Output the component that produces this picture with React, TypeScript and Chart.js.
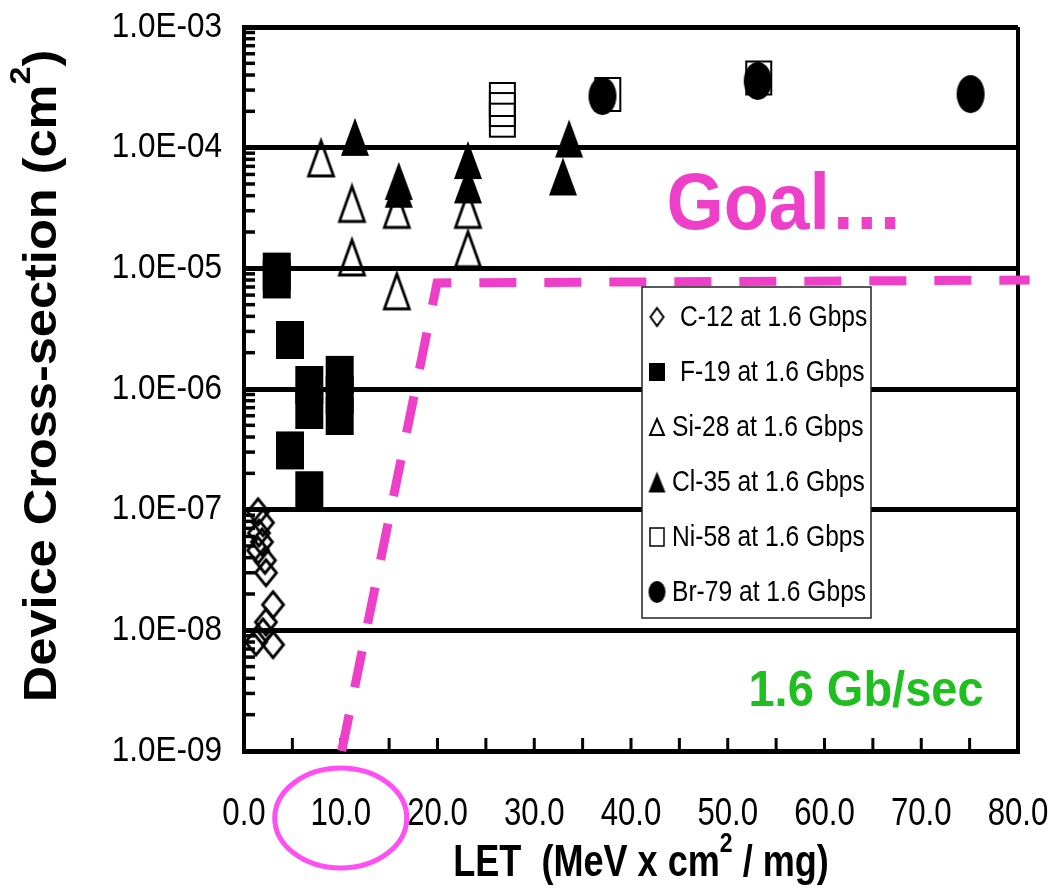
import React, { useEffect, useRef } from 'react';
import { Chart, registerables } from 'chart.js';

Chart.register(...registerables);

// ---------- data ----------
const seriesLabels = [
  'C-12 at 1.6 Gbps',
  'F-19 at 1.6 Gbps',
  'Si-28 at 1.6 Gbps',
  'Cl-35 at 1.6 Gbps',
  'Ni-58 at 1.6 Gbps',
  'Br-79 at 1.6 Gbps',
];

const c12Let = [1.45, 1.96, 1.55, 1.86, 1.45, 2.17, 2.27, 3.0, 2.27, 1.96, 1.24, 3.0];
const c12Sigma = [9.6e-8, 7.8e-8, 6.4e-8, 5.4e-8, 4.6e-8, 3.8e-8, 3.0e-8, 1.63e-8, 1.17e-8, 9.7e-9, 8.0e-9, 7.6e-9];

const f19Let = [3.38, 3.38, 4.75, 6.75, 6.75, 9.89, 9.89, 9.89, 4.75, 6.75];
const f19Sigma = [9.4e-6, 8.1e-6, 2.55e-6, 1.08e-6, 6.7e-7, 1.31e-6, 8.9e-7, 5.98e-7, 3.1e-7, 1.45e-7];

const si28Let = [7.96, 11.16, 11.16, 15.8, 15.8, 23.15, 23.15];
const si28Sigma = [8.15e-5, 3.42e-5, 1.23e-5, 6.45e-6, 3.05e-5, 3.05e-5, 1.44e-5];

const cl35Let = [11.47, 16.0, 16.0, 23.15, 23.15, 33.6, 32.97];
const cl35Sigma = [1.23e-4, 5.3e-5, 4.57e-5, 7.9e-5, 4.96e-5, 1.19e-4, 5.77e-5];

const ni58Let = [26.7, 26.7, 26.7, 37.6, 53.2];
const ni58Sigma = [2.51e-4, 2.07e-4, 1.69e-4, 2.76e-4, 3.78e-4];

const br79Let = [37.05, 53.1, 75.1];
const br79Sigma = [2.68e-4, 3.57e-4, 2.78e-4];

const goalLet = [10.1, 19.95, 81.2];
const goalSigma = [1e-9, 7.57e-6, 8.0e-6];

const xMin = 0;
const xMax = 80;
const xStep = 5;
const xLabelStep = 10;
const yMin = 1e-9;
const yMax = 1e-3;

// title pieces: [normal, superscript, normal]
const xTitleParts = ['LET  (MeV x cm', '2', ' / mg)'];
const yTitleParts = ['Device Cross-section (cm', '2', ')'];
const goalText = 'Goal\u2026';
const rateText = '1.6 Gb/sec';
const circledTick = 10;

// ---------- styles ----------
const PINK = '#EE3FC8';
const MAGENTA = '#FF4FF4';
const GREEN = '#1FBF1F';
const SANS = '"Liberation Sans", Arial, sans-serif';

type Kind = 'diamond' | 'square' | 'triangle' | 'circle';

function makeMarker(kind: Kind, w: number, h: number, filled: boolean, lw: number): HTMLCanvasElement {
  const pad = Math.ceil(lw) + 1;
  const c = document.createElement('canvas');
  c.width = w + pad * 2;
  c.height = h + pad * 2;
  const g = c.getContext('2d')!;
  g.translate(pad, pad);
  g.beginPath();
  if (kind === 'diamond') {
    g.moveTo(w / 2, 0); g.lineTo(w, h / 2); g.lineTo(w / 2, h); g.lineTo(0, h / 2); g.closePath();
  } else if (kind === 'square') {
    g.rect(0, 0, w, h);
  } else if (kind === 'triangle') {
    g.moveTo(w / 2, 0); g.lineTo(w, h); g.lineTo(0, h); g.closePath();
  } else {
    g.ellipse(w / 2, h / 2, w / 2, h / 2, 0, 0, Math.PI * 2);
  }
  if (filled) {
    g.fillStyle = '#000';
    g.fill();
  } else {
    g.lineWidth = lw;
    g.strokeStyle = '#000';
    g.lineJoin = 'miter';
    g.stroke();
  }
  return c;
}

function isDecade(v: number): boolean {
  const l = Math.log10(v);
  return Math.abs(l - Math.round(l)) < 1e-6;
}

function isIntMantissa(v: number): boolean {
  const e = Math.floor(Math.log10(v) + 1e-9);
  const m = v / Math.pow(10, e);
  return Math.abs(m - Math.round(m)) < 1e-6;
}

function fmtSci(v: number): string {
  const e = Math.round(Math.log10(v));
  const m = v / Math.pow(10, e);
  const sign = e < 0 ? '-' : '+';
  return m.toFixed(1) + 'E' + sign + String(Math.abs(e)).padStart(2, '0');
}

function pts(xs: number[], ys: number[]) {
  return xs.map((x, i) => ({ x, y: ys[i] }));
}

function drawText(
  ctx: CanvasRenderingContext2D, text: string, x: number, y: number, font: string,
  color: string, align: CanvasTextAlign, sx = 1, sy = 1, rot = 0,
) {
  ctx.save();
  ctx.translate(x, y);
  ctx.rotate(rot);
  ctx.scale(sx, sy);
  ctx.font = font;
  ctx.fillStyle = color;
  ctx.textAlign = align;
  ctx.textBaseline = 'middle';
  ctx.fillText(text, 0, 0);
  ctx.restore();
}

// normal / superscript / normal, centred at (x, y)
function drawRich(
  ctx: CanvasRenderingContext2D, parts: string[], x: number, y: number, size: number,
  weight: string, sx: number, sy: number, rot: number,
) {
  ctx.save();
  ctx.translate(x, y);
  ctx.rotate(rot);
  ctx.scale(sx, sy);
  ctx.fillStyle = '#000';
  ctx.textBaseline = 'middle';
  ctx.textAlign = 'left';
  const fonts = parts.map((_, i) => `${weight} ${i === 1 ? Math.round(size * 0.64) : size}px ${SANS}`);
  const widths = parts.map((p, i) => { ctx.font = fonts[i]; return ctx.measureText(p).width; });
  const total = widths.reduce((a, b) => a + b, 0);
  let cx = -total / 2;
  parts.forEach((p, i) => {
    ctx.font = fonts[i];
    ctx.fillText(p, cx, i === 1 ? -size * 0.45 : 0);
    cx += widths[i];
  });
  ctx.restore();
}

export default function App() {
  const ref = useRef<HTMLCanvasElement>(null);

  useEffect(() => {
    const canvas = ref.current!;
    const dataMarkers = [
      makeMarker('diamond', 21, 26, false, 2.8),
      makeMarker('square', 28, 38, true, 0),
      makeMarker('triangle', 25, 35, false, 2.8),
      makeMarker('triangle', 28, 38, true, 0),
      makeMarker('square', 25, 33, false, 2),
      makeMarker('circle', 28, 38, true, 0),
    ];
    const legendMarkers = [
      makeMarker('diamond', 13, 18, false, 2),
      makeMarker('square', 16, 18, true, 0),
      makeMarker('triangle', 14, 16, false, 2),
      makeMarker('triangle', 17, 21, true, 0),
      makeMarker('square', 14, 18, false, 1.5),
      makeMarker('circle', 17, 22, true, 0),
    ];
    const lets = [c12Let, f19Let, si28Let, cl35Let, ni58Let, br79Let];
    const sigmas = [c12Sigma, f19Sigma, si28Sigma, cl35Sigma, ni58Sigma, br79Sigma];
    const orders = [6, 5, 4, 3, 2, 1];

    const datasets: any[] = seriesLabels.map((label, i) => ({
      label,
      data: pts(lets[i], sigmas[i]),
      pointStyle: dataMarkers[i],
      pointRadius: 10,
      pointHoverRadius: 10,
      showLine: false,
      clip: false,
      order: orders[i],
    }));
    datasets.push({
      label: 'Goal',
      data: pts(goalLet, goalSigma),
      showLine: true,
      borderColor: PINK,
      borderWidth: 9,
      borderDash: [37, 28],
      borderCapStyle: 'butt',
      borderJoinStyle: 'miter',
      pointRadius: 0,
      pointHoverRadius: 0,
      tension: 0,
      fill: false,
      clip: false,
      order: 0,
    });

    const decorPlugin = {
      id: 'decor',
      beforeDatasetsDraw(chart: any) {
        const { ctx, chartArea } = chart;
        const xs = chart.scales.x;
        const ys = chart.scales.y;
        ctx.save();
        ctx.strokeStyle = '#000';
        ctx.lineWidth = 3.5;
        ys.ticks.forEach((t: any) => {
          if (isDecade(t.value) || !isIntMantissa(t.value)) return;
          const y = ys.getPixelForValue(t.value);
          ctx.beginPath();
          ctx.moveTo(chartArea.left, y);
          ctx.lineTo(chartArea.left + 11, y);
          ctx.stroke();
        });
        ctx.lineWidth = 3;
        xs.ticks.forEach((t: any) => {
          if (t.value <= xs.min || t.value >= xs.max) return;
          const x = xs.getPixelForValue(t.value);
          ctx.beginPath();
          ctx.moveTo(x, chartArea.bottom);
          ctx.lineTo(x, chartArea.bottom - 13);
          ctx.stroke();
        });
        ctx.restore();
      },
      afterDraw(chart: any) {
        const { ctx, chartArea } = chart;
        const xs = chart.scales.x;
        const ys = chart.scales.y;

        // tick labels
        ys.ticks.forEach((t: any) => {
          if (!isDecade(t.value)) return;
          drawText(ctx, fmtSci(t.value), chartArea.left - 22, ys.getPixelForValue(t.value),
            `35px ${SANS}`, '#000', 'right', 0.9, 1);
        });
        xs.ticks.forEach((t: any) => {
          if (Math.abs(t.value % xLabelStep) > 1e-9) return;
          drawText(ctx, Number(t.value).toFixed(1), xs.getPixelForValue(t.value), 814,
            `39px ${SANS}`, '#000', 'center', 0.8, 1);
        });

        // axis titles
        drawRich(ctx, xTitleParts, 641, 864, 44, 'bold', 0.82, 1, 0);
        drawRich(ctx, yTitleParts, 43, 376, 47, 'bold', 1.075, 1, -Math.PI / 2);

        // legend box
        const bx = 642, by = 287, bw = 229, bh = 331;
        ctx.save();
        ctx.fillStyle = '#fff';
        ctx.fillRect(bx, by, bw, bh);
        ctx.strokeStyle = '#222';
        ctx.lineWidth = 1.5;
        ctx.strokeRect(bx, by, bw, bh);
        ctx.restore();
        seriesLabels.forEach((lab, i) => {
          const cy = 317 + i * 55;
          const m = legendMarkers[i];
          ctx.drawImage(m, 657 - m.width / 2, cy - m.height / 2);
          drawText(ctx, lab, i < 2 ? 680 : 672, cy + 1, `30px ${SANS}`, '#000', 'left', 0.82, 1);
        });

        // annotations
        drawText(ctx, goalText, 785, 207, `bold 80px ${SANS}`, PINK, 'center', 0.92, 1);
        drawText(ctx, rateText, 866, 692, `bold 47px ${SANS}`, GREEN, 'center', 1, 1.08);

        ctx.save();
        ctx.strokeStyle = MAGENTA;
        ctx.lineWidth = 5;
        ctx.beginPath();
        ctx.ellipse(xs.getPixelForValue(circledTick), 818, 66, 50, 0, 0, Math.PI * 2);
        ctx.stroke();
        ctx.restore();
      },
    };

    const chart = new Chart(canvas, {
      type: 'scatter',
      data: { datasets },
      options: {
        animation: false,
        responsive: false,
        devicePixelRatio: 1,
        events: [],
        layout: { padding: { top: 27, right: 35, left: 0, bottom: 0 } },
        plugins: { legend: { display: false }, tooltip: { enabled: false } },
        scales: {
          x: {
            type: 'linear',
            min: xMin,
            max: xMax,
            afterFit: (s: any) => { s.height = 893 - 751; s.paddingLeft = 0; s.paddingRight = 0; },
            ticks: { stepSize: xStep, autoSkip: false, display: false },
            grid: {
              drawTicks: false,
              color: (c: any) => (c.tick && c.tick.value === xMax ? '#000' : 'rgba(0,0,0,0)'),
              lineWidth: 4,
            },
            border: { display: true, color: '#000', width: 5 },
            title: { display: false },
          },
          y: {
            type: 'logarithmic',
            min: yMin,
            max: yMax,
            afterFit: (s: any) => { s.width = 244; s.paddingTop = 0; s.paddingBottom = 0; },
            ticks: { autoSkip: false, display: false },
            grid: {
              drawTicks: false,
              color: (c: any) => (c.tick && isDecade(c.tick.value) ? '#000' : 'rgba(0,0,0,0)'),
              lineWidth: 5,
            },
            border: { display: true, color: '#000', width: 4 },
            title: { display: false },
          },
        },
      } as any,
      plugins: [decorPlugin],
    });
    return () => chart.destroy();
  }, []);

  return (
    <div style={{ position: 'absolute', left: 0, top: 0, width: 1053, height: 893, background: '#fff' }}>
      <canvas ref={ref} width={1053} height={893} style={{ display: 'block', width: 1053, height: 893 }} />
    </div>
  );
}
